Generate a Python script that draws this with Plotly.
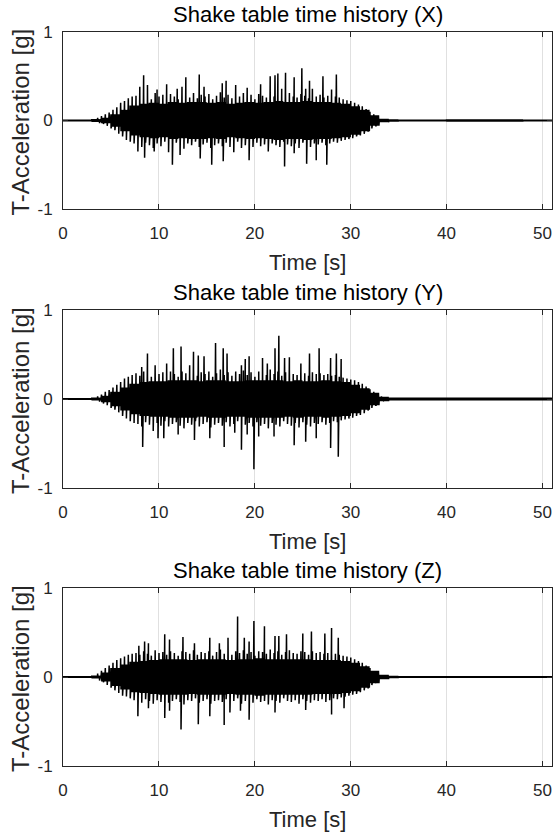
import numpy as np
import plotly.graph_objects as go

# ---------------- data ----------------
titles = ["Shake table time history (X)", "Shake table time history (Y)", "Shake table time history (Z)"]
x_ticks = [0, 10, 20, 30, 40, 50]
y_ticks = [-1, 0, 1]

# dense core half-amplitude per 1-s bin, t = 0..51 s
core_x = [0.01, 0.01, 0.01, 0.015, 0.03, 0.07, 0.12, 0.17, 0.19, 0.2, 0.19, 0.21, 0.2, 0.21, 0.21, 0.2,
          0.21, 0.19, 0.2, 0.21, 0.2, 0.21, 0.22, 0.21, 0.21, 0.22, 0.21, 0.21, 0.2, 0.19, 0.16, 0.12,
          0.06, 0.02, 0.012, 0.01, 0.01, 0.01, 0.01, 0.01, 0.012, 0.012, 0.012, 0.012, 0.012, 0.012, 0.012,
          0.012, 0.01, 0.01, 0.01]
core_y = [0.01, 0.01, 0.01, 0.015, 0.035, 0.08, 0.13, 0.17, 0.19, 0.2, 0.2, 0.21, 0.21, 0.21, 0.2, 0.21,
          0.21, 0.2, 0.2, 0.21, 0.21, 0.21, 0.21, 0.2, 0.21, 0.2, 0.2, 0.21, 0.2, 0.19, 0.16, 0.12,
          0.07, 0.025, 0.015, 0.015, 0.015, 0.015, 0.015, 0.015, 0.015, 0.015, 0.015, 0.015, 0.015, 0.015,
          0.015, 0.015, 0.015, 0.015, 0.015]
core_z = [0.01, 0.01, 0.01, 0.015, 0.05, 0.1, 0.14, 0.17, 0.18, 0.19, 0.2, 0.2, 0.2, 0.19, 0.2, 0.2,
          0.2, 0.19, 0.2, 0.2, 0.21, 0.2, 0.2, 0.2, 0.2, 0.2, 0.19, 0.19, 0.19, 0.18, 0.16, 0.12,
          0.07, 0.025, 0.012, 0.01, 0.01, 0.01, 0.01, 0.01, 0.01, 0.01, 0.01, 0.01, 0.01, 0.01, 0.01, 0.01,
          0.01, 0.01, 0.01]

# ragged edge of the band: peaks sampled every 0.4 s from t = 3.6 s
minor_t0, minor_dt = 3.6, 0.4
minor_up_x = [0.03, 0.05, 0.07, 0.09, 0.12, 0.15, 0.2, 0.22, 0.25, 0.27,
              0.28, 0.25, 0.30, 0.26, 0.24, 0.31, 0.27, 0.29, 0.25, 0.30, 0.27, 0.24, 0.30, 0.28, 0.26,
              0.31, 0.25, 0.29, 0.27, 0.30, 0.24, 0.28, 0.32, 0.26, 0.29, 0.25, 0.30, 0.27, 0.31, 0.26,
              0.29, 0.24, 0.30, 0.28, 0.26, 0.32, 0.27, 0.30, 0.25, 0.29, 0.31, 0.27, 0.26, 0.30, 0.28,
              0.25, 0.31, 0.27, 0.29, 0.26, 0.28, 0.25, 0.27, 0.26, 0.24, 0.23,
              0.22, 0.20, 0.18, 0.16, 0.13, 0.10, 0.07, 0.04, 0.02]
minor_lo_x = [0.03, 0.04, 0.06, 0.09, 0.11, 0.15, 0.18, 0.22, 0.24, 0.26,
              0.27, 0.30, 0.25, 0.28, 0.31, 0.26, 0.29, 0.24, 0.30, 0.27, 0.25, 0.29, 0.32, 0.26, 0.28,
              0.24, 0.30, 0.27, 0.25, 0.31, 0.28, 0.26, 0.29, 0.25, 0.30, 0.27, 0.24, 0.31, 0.28, 0.26,
              0.30, 0.25, 0.29, 0.27, 0.32, 0.26, 0.28, 0.30, 0.24, 0.27, 0.29, 0.26, 0.31, 0.25, 0.28,
              0.30, 0.26, 0.27, 0.25, 0.28, 0.26, 0.24, 0.25, 0.23, 0.22, 0.21,
              0.20, 0.18, 0.17, 0.15, 0.12, 0.09, 0.06, 0.03, 0.02]
minor_up_y = [0.03, 0.05, 0.08, 0.1, 0.13, 0.16, 0.19, 0.23, 0.25, 0.27,
              0.29, 0.26, 0.31, 0.27, 0.25, 0.32, 0.28, 0.30, 0.26, 0.31, 0.28, 0.25, 0.31, 0.29, 0.27,
              0.32, 0.26, 0.30, 0.28, 0.31, 0.25, 0.29, 0.33, 0.27, 0.30, 0.26, 0.31, 0.28, 0.32, 0.27,
              0.30, 0.25, 0.31, 0.29, 0.27, 0.33, 0.28, 0.31, 0.26, 0.30, 0.32, 0.28, 0.27, 0.31, 0.29,
              0.26, 0.30, 0.28, 0.29, 0.27, 0.28, 0.26, 0.27, 0.25, 0.24, 0.23,
              0.22, 0.21, 0.19, 0.17, 0.14, 0.11, 0.08, 0.05, 0.03]
minor_lo_y = [0.03, 0.05, 0.07, 0.1, 0.12, 0.15, 0.19, 0.22, 0.25, 0.27,
              0.28, 0.31, 0.26, 0.29, 0.32, 0.27, 0.30, 0.25, 0.31, 0.28, 0.26, 0.30, 0.33, 0.27, 0.29,
              0.25, 0.31, 0.28, 0.26, 0.32, 0.29, 0.27, 0.30, 0.26, 0.31, 0.28, 0.25, 0.32, 0.29, 0.27,
              0.31, 0.26, 0.30, 0.28, 0.33, 0.27, 0.29, 0.31, 0.25, 0.28, 0.30, 0.27, 0.32, 0.26, 0.29,
              0.31, 0.27, 0.28, 0.26, 0.29, 0.27, 0.25, 0.26, 0.24, 0.23, 0.22,
              0.21, 0.19, 0.18, 0.16, 0.13, 0.10, 0.07, 0.04, 0.02]
minor_up_z = [0.04, 0.07, 0.10, 0.13, 0.16, 0.19, 0.21, 0.23, 0.25, 0.26,
              0.27, 0.25, 0.29, 0.26, 0.24, 0.30, 0.27, 0.28, 0.25, 0.29, 0.27, 0.24, 0.29, 0.28, 0.26,
              0.30, 0.25, 0.28, 0.27, 0.29, 0.24, 0.28, 0.31, 0.26, 0.28, 0.25, 0.29, 0.27, 0.30, 0.26,
              0.28, 0.24, 0.29, 0.28, 0.26, 0.31, 0.27, 0.29, 0.25, 0.28, 0.30, 0.27, 0.26, 0.29, 0.28,
              0.25, 0.29, 0.27, 0.28, 0.26, 0.27, 0.25, 0.26, 0.25, 0.24, 0.23,
              0.22, 0.20, 0.18, 0.16, 0.13, 0.10, 0.07, 0.04, 0.02]
minor_lo_z = [0.04, 0.06, 0.09, 0.12, 0.15, 0.18, 0.21, 0.22, 0.24, 0.26,
              0.26, 0.29, 0.25, 0.27, 0.30, 0.26, 0.28, 0.24, 0.29, 0.27, 0.25, 0.28, 0.31, 0.26, 0.27,
              0.24, 0.29, 0.27, 0.25, 0.30, 0.27, 0.26, 0.28, 0.25, 0.29, 0.27, 0.24, 0.30, 0.27, 0.26,
              0.29, 0.25, 0.28, 0.27, 0.31, 0.26, 0.27, 0.29, 0.24, 0.27, 0.28, 0.26, 0.30, 0.25, 0.27,
              0.29, 0.26, 0.27, 0.25, 0.28, 0.26, 0.24, 0.25, 0.23, 0.22, 0.21,
              0.20, 0.19, 0.17, 0.15, 0.12, 0.09, 0.06, 0.03, 0.02]

# individual large spikes (time [s], acceleration [g])
spikes_x = [(8.0, 0.38), (8.4, 0.51), (8.8, 0.40), (9.8, 0.35), (10.8, 0.41), (11.9, 0.36), (12.4, 0.38),
            (12.8, 0.49), (14.2, 0.52), (14.7, 0.38), (16.6, 0.42), (17.0, 0.45), (18.0, 0.40), (19.2, 0.37),
            (20.6, 0.41), (21.6, 0.50), (22.1, 0.51), (22.4, 0.53), (22.8, 0.36), (23.2, 0.54), (24.1, 0.49),
            (24.9, 0.59), (25.3, 0.36), (25.7, 0.45), (26.0, 0.36), (27.1, 0.50), (28.0, 0.35), (28.5, 0.52),
            (7.8, -0.35), (8.5, -0.42), (9.5, -0.35), (11.0, -0.36), (11.4, -0.50), (12.2, -0.39),
            (14.3, -0.43), (15.5, -0.50), (16.7, -0.46), (17.8, -0.36), (19.4, -0.45), (21.4, -0.35),
            (23.1, -0.52), (24.1, -0.37), (25.4, -0.49), (26.4, -0.45), (27.5, -0.50)]
spikes_y = [(8.2, 0.36), (8.8, 0.51), (9.6, 0.38), (10.8, 0.40), (11.5, 0.57), (12.3, 0.59), (13.2, 0.38),
            (13.6, 0.53), (14.1, 0.49), (14.7, 0.48), (15.9, 0.63), (16.7, 0.57), (17.1, 0.51), (18.6, 0.38),
            (19.0, 0.45), (19.4, 0.48), (20.8, 0.46), (21.3, 0.40), (22.1, 0.57), (22.5, 0.71), (23.1, 0.46),
            (23.6, 0.47), (24.8, 0.40), (25.7, 0.51), (26.7, 0.57), (27.9, 0.46), (28.5, 0.51), (29.0, 0.45),
            (8.3, -0.54), (9.4, -0.36), (9.9, -0.44), (10.5, -0.44), (12.0, -0.40), (13.7, -0.46),
            (15.3, -0.44), (16.8, -0.54), (17.9, -0.38), (18.6, -0.57), (19.2, -0.40), (19.9, -0.79),
            (20.4, -0.42), (22.0, -0.42), (24.1, -0.52), (25.3, -0.48), (26.4, -0.44), (27.9, -0.55),
            (28.7, -0.65)]
spikes_z = [(7.9, 0.35), (8.5, 0.40), (8.9, 0.38), (10.6, 0.48), (11.1, 0.42), (12.5, 0.45), (13.7, 0.38),
            (15.3, 0.44), (16.3, 0.38), (17.2, 0.44), (18.2, 0.68), (18.9, 0.44), (19.4, 0.40), (19.9, 0.63),
            (21.0, 0.57), (22.1, 0.46), (22.5, 0.46), (23.3, 0.48), (25.0, 0.49), (25.9, 0.51), (27.3, 0.49),
            (28.0, 0.55), (28.7, 0.44),
            (7.8, -0.44), (8.9, -0.35), (10.6, -0.46), (11.1, -0.38), (12.3, -0.59), (14.1, -0.53),
            (15.3, -0.44), (16.8, -0.54), (17.4, -0.40), (18.5, -0.38), (19.4, -0.48), (22.1, -0.40),
            (25.3, -0.37), (28.0, -0.42), (29.3, -0.35)]

cores = [core_x, core_y, core_z]
minors = [(minor_up_x, minor_lo_x), (minor_up_y, minor_lo_y), (minor_up_z, minor_lo_z)]
spike_sets = [spikes_x, spikes_y, spikes_z]

# ---------------- drawing helpers ----------------
def build_trace(core, minor, spikes):
    step = 0.05
    n = int(51 / step) + 1
    t = np.arange(n) * step
    bins = np.minimum(t.astype(int), len(core) - 1)
    amp = np.array(core)[bins]
    sign = np.where(np.arange(n) % 2 == 0, 1.0, -1.0)
    y = amp * sign
    up, lo = minor
    tu = minor_t0 + np.arange(len(up)) * minor_dt
    tl = minor_t0 + minor_dt / 2 + np.arange(len(lo)) * minor_dt
    st = np.array([s[0] for s in spikes]) + 0.01
    sa = np.array([s[1] for s in spikes])
    tt = np.concatenate([t, tu + 0.013, tl + 0.013, st])
    yy = np.concatenate([y, np.array(up), -np.array(lo), sa])
    order = np.argsort(tt, kind="stable")
    return tt[order], yy[order]

fig = go.Figure()

W, H = 555, 834
domains_px = [(32, 209), (310, 488), (588, 766)]
L_PX, R_PX = 63, 552
FONT = "Liberation Sans, Arial, Helvetica, sans-serif"
AXC = "#262626"
TXT = "#262626"

for i in range(3):
    tt, yy = build_trace(cores[i], minors[i], spike_sets[i])
    xa = "x" if i == 0 else f"x{i+1}"
    ya = "y" if i == 0 else f"y{i+1}"
    fig.add_trace(go.Scatter(x=tt, y=yy, mode="lines", line=dict(color="black", width=1.5),
                             xaxis=xa, yaxis=ya, showlegend=False, hoverinfo="skip"))
    top, bot = domains_px[i]
    dom = [1 - bot / H, 1 - top / H]
    axis_common = dict(showline=True, linecolor=AXC, linewidth=1, mirror="ticks", ticks="inside",
                       ticklen=5, tickcolor=AXC, showgrid=True, gridcolor="#e0e0e0", gridwidth=1,
                       zeroline=False, automargin=False,
                       tickfont=dict(family=FONT, size=17, color=TXT))
    fig.layout[("xaxis" if i == 0 else f"xaxis{i+1}")] = dict(
        axis_common, domain=[0, 1], range=[0, 51], tickvals=x_ticks, ticktext=[str(v) for v in x_ticks],
        anchor=ya, ticklabelstandoff=9)
    fig.layout[("yaxis" if i == 0 else f"yaxis{i+1}")] = dict(
        axis_common, domain=dom, range=[-1, 1], tickvals=y_ticks, ticktext=[str(v) for v in y_ticks],
        anchor=xa, ticklabelstandoff=6)
    cx = (L_PX + R_PX) / 2
    fx = (cx - L_PX) / (R_PX - L_PX)
    fig.add_annotation(text=titles[i], x=fx, y=1 - (top - 18) / H,
                       xref="paper", yref="paper", showarrow=False, xanchor="center", yanchor="middle",
                       font=dict(family=FONT, size=22, color="black"))
    fig.add_annotation(text="Time [s]", x=fx, y=1 - (bot + 53) / H,
                       xref="paper", yref="paper", showarrow=False, xanchor="center", yanchor="middle",
                       font=dict(family=FONT, size=22, color=TXT))
    fig.add_annotation(text="T-Acceleration [g]", x=(20 - L_PX) / (R_PX - L_PX), y=1 - ((top + bot) / 2 + 2) / H,
                       xref="paper", yref="paper", showarrow=False, xanchor="center", yanchor="middle",
                       textangle=-90, font=dict(family=FONT, size=24, color=TXT))

fig.update_layout(width=W, height=H, margin=dict(l=L_PX, r=W - R_PX, t=0, b=0, autoexpand=False),
                  paper_bgcolor="white", plot_bgcolor="white", showlegend=False)

fig.write_html("out.html", config={"displayModeBar": False},
               post_script="document.body.style.margin='0px';")
